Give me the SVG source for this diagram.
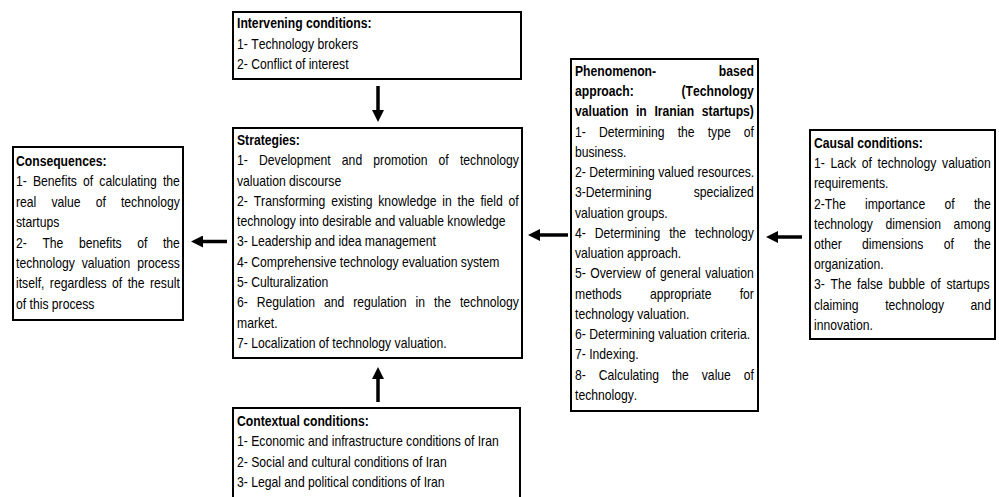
<svg xmlns="http://www.w3.org/2000/svg" width="999" height="497" viewBox="0 0 999 497">
<style>
.box{fill:#fff;stroke:#000;stroke-width:2}
text{font-family:"Liberation Sans",Arial,sans-serif;font-size:14.5px;fill:#000;font-kerning:none}
.b{font-weight:bold}
.arr{stroke:#000;stroke-width:3.5;fill:none;marker-end:url(#ah)}
</style>
<defs>
<marker id="ah" markerUnits="userSpaceOnUse" markerWidth="13" markerHeight="12" refX="2" refY="6" orient="auto">
<path d="M0,0 L12,6 L0,12 z" fill="#000"/>
</marker>
</defs>
<rect width="999" height="497" fill="#fff"/>

<g id="consequences">
<rect class="box" x="13" y="147" width="170" height="173"/>
<g transform="translate(16 0) scale(0.84 1)">
<text class="b" x="0" y="166">Consequences:</text>
<text x="0" y="186.4" word-spacing="3.27">1- Benefits of calculating the</text>
<text x="0" y="206.8" word-spacing="14">real value of technology</text>
<text x="0" y="227.2">startups</text>
<text x="0" y="247.6" word-spacing="14.55">2- The benefits of the</text>
<text x="0" y="268" word-spacing="4.1">technology valuation process</text>
<text x="0" y="288.4" word-spacing="2.45">itself, regardless of the result</text>
<text x="0" y="308.8">of this process</text>
</g>
</g>

<g id="intervening">
<rect class="box" x="233" y="12" width="288" height="67"/>
<g transform="translate(237 0) scale(0.84 1)">
<text class="b" x="0" y="28.5">Intervening conditions:</text>
<text x="0" y="49">1- Technology brokers</text>
<text x="0" y="69.5">2- Conflict of interest</text>
</g>
</g>

<g id="strategies">
<rect class="box" x="233" y="128" width="289" height="230"/>
<g transform="translate(237 0) scale(0.84 1)">
<text class="b" x="0" y="145">Strategies:</text>
<text x="0" y="165.3" word-spacing="9.28">1- Development and promotion of technology</text>
<text x="0" y="185.6">valuation discourse</text>
<text x="0" y="205.9" word-spacing="2.94">2- Transforming existing knowledge in the field of</text>
<text x="0" y="226.2">technology into desirable and valuable knowledge</text>
<text x="0" y="246.5">3- Leadership and idea management</text>
<text x="0" y="266.8">4- Comprehensive technology evaluation system</text>
<text x="0" y="287.1">5- Culturalization</text>
<text x="0" y="307.4" word-spacing="6.65">6- Regulation and regulation in the technology</text>
<text x="0" y="327.7">market.</text>
<text x="0" y="348">7- Localization of technology valuation.</text>
</g>
</g>

<g id="contextual">
<rect class="box" x="233" y="408" width="287" height="100"/>
<g transform="translate(237 0) scale(0.84 1)">
<text class="b" x="0" y="426">Contextual conditions:</text>
<text x="0" y="446.5">1- Economic and infrastructure conditions of Iran</text>
<text x="0" y="467">2- Social and cultural conditions of Iran</text>
<text x="0" y="487.5">3- Legal and political conditions of Iran</text>
</g>
</g>

<g id="phenomenon">
<rect class="box" x="571" y="59" width="187" height="352"/>
<g transform="translate(575 0) scale(0.84 1)">
<text class="b" x="0" y="76" word-spacing="70.5">Phenomenon- based</text>
<text class="b" x="0" y="96.25" word-spacing="52.8">approach: (Technology</text>
<text class="b" x="0" y="116.5" word-spacing="5">valuation in Iranian startups)</text>
<text x="0" y="136.75" word-spacing="11.6">1- Determining the type of</text>
<text x="0" y="157">business.</text>
<text x="0" y="177.25">2- Determining valued resources.</text>
<text x="0" y="197.5" word-spacing="46.3">3-Determining specialized</text>
<text x="0" y="217.75">valuation groups.</text>
<text x="0" y="238" word-spacing="6.57">4- Determining the technology</text>
<text x="0" y="258.25">valuation approach.</text>
<text x="0" y="278.5" word-spacing="1.3">5- Overview of general valuation</text>
<text x="0" y="298.75" word-spacing="29.6">methods appropriate for</text>
<text x="0" y="319">technology valuation.</text>
<text x="0" y="339.25">6- Determining valuation criteria.</text>
<text x="0" y="359.5">7- Indexing.</text>
<text x="0" y="379.75" word-spacing="11.4">8- Calculating the value of</text>
<text x="0" y="400">technology.</text>
</g>
</g>

<g id="causal">
<rect class="box" x="810" y="130" width="185" height="209"/>
<g transform="translate(814 0) scale(0.84 1)">
<text class="b" x="0" y="148">Causal conditions:</text>
<text x="0" y="168.2" word-spacing="2.7">1- Lack of technology valuation</text>
<text x="0" y="188.4">requirements.</text>
<text x="0" y="208.6" word-spacing="18.9">2-The importance of the</text>
<text x="0" y="228.8" word-spacing="11.05">technology dimension among</text>
<text x="0" y="249" word-spacing="20">other dimensions of the</text>
<text x="0" y="269.2">organization.</text>
<text x="0" y="289.4" word-spacing="2.7">3- The false bubble of startups</text>
<text x="0" y="309.6" word-spacing="27.6">claiming technology and</text>
<text x="0" y="329.8">innovation.</text>
</g>
</g>

<g id="connectors">
<line class="arr" x1="227" y1="241.5" x2="201" y2="241.5"/>
<line class="arr" x1="568" y1="235" x2="538" y2="235"/>
<line class="arr" x1="802" y1="237" x2="776" y2="237"/>
<line class="arr" x1="378" y1="86" x2="378" y2="112"/>
<line class="arr" x1="378" y1="402" x2="378" y2="377"/>
</g>
</svg>
